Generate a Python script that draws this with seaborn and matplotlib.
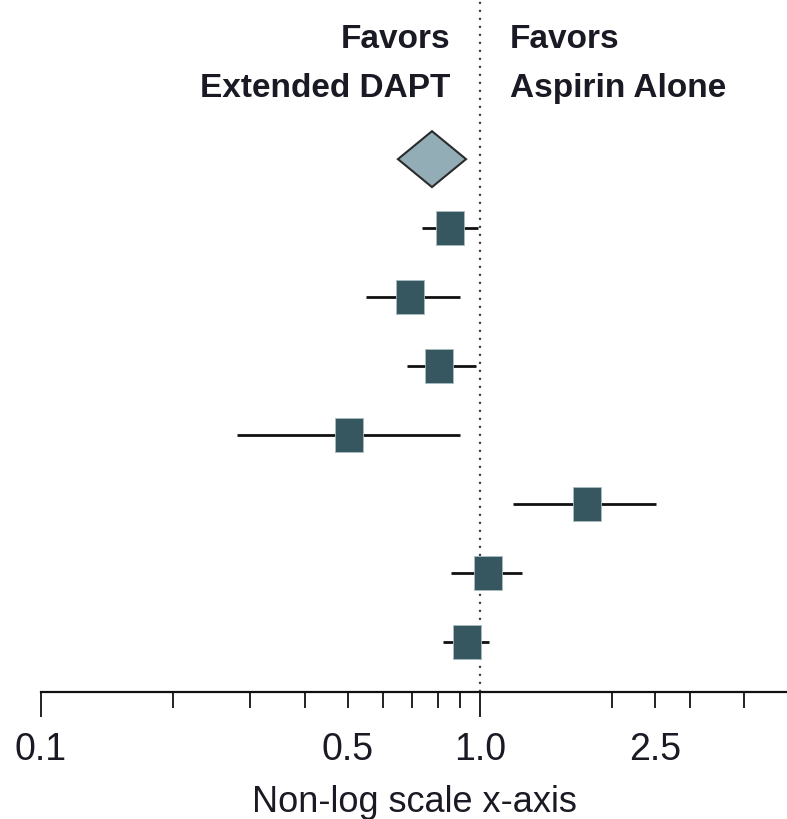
import numpy as np
import pandas as pd
import seaborn as sns
import matplotlib.pyplot as plt
from matplotlib.ticker import FixedLocator, FixedFormatter, NullLocator

# study rows (0 = pooled diamond)
rows = [1, 2, 3, 4, 5, 6, 7]
estimates = [0.856, 0.693, 0.807, 0.503, 1.75, 1.041, 0.935]
lower = [0.738, 0.550, 0.681, 0.280, 1.19, 0.859, 0.825]
upper = [0.990, 0.900, 0.978, 0.900, 2.52, 1.248, 1.050]

pooled_est = 0.777
pooled_lo = 0.650
pooled_hi = 0.929

tick_values = [0.1, 0.2, 0.3, 0.4, 0.5, 0.6, 0.7, 0.8, 0.9, 1.0, 2.0, 2.5, 3.0, 4.0]
tick_labels = ["0.1", "", "", "", "0.5", "", "", "", "", "1.0", "", "2.5", "", ""]
long_ticks = [0.1, 1.0]

df = pd.DataFrame({"row": rows, "est": estimates, "lo": lower, "hi": upper})

sns.set_style("ticks")
plt.rcParams["font.family"] = ["Liberation Sans", "DejaVu Sans"]

fig = plt.figure(figsize=(7.87, 8.2), dpi=100)
ax = fig.add_axes([41 / 787, 127 / 820, 746 / 787, 693 / 820])
ax.set_xscale("log")

# reference line
ax.axvline(1.0, color="#444444", linestyle=(0, (1, 2.6)), linewidth=1.6, zorder=1)

# confidence intervals
ax.hlines(df["row"], df["lo"], df["hi"], color="#111111", linewidth=2.0, zorder=2)

# study estimates (slightly tall rectangles)
box = [(-27 / 33, -1), (27 / 33, -1), (27 / 33, 1), (-27 / 33, 1), (-27 / 33, -1)]
sns.scatterplot(data=df, x="est", y="row", marker=box, s=23.8 ** 2,
                color="#36575f", edgecolor="#a9bcc2", linewidth=0.6, zorder=3, ax=ax)

# pooled diamond
dh = 0.405
ax.fill([pooled_lo, pooled_est, pooled_hi, pooled_est, pooled_lo],
        [0, -dh, 0, dh, 0], facecolor="#93adb7", edgecolor="#2b2b2b",
        linewidth=1.5, zorder=3)

ax.set_xlim(0.1, 5.0)
ax.set_ylim(7.72, -2.32)

ax.xaxis.set_major_locator(FixedLocator(tick_values))
ax.xaxis.set_major_formatter(FixedFormatter(tick_labels))
ax.xaxis.set_minor_locator(NullLocator())
ax.tick_params(axis="x", length=18, width=1.3, color="#111111", pad=10,
               labelsize=27, labelcolor="#1a1a24")
for t, v in zip(ax.xaxis.get_major_ticks(), tick_values):
    if v not in long_ticks:
        t.tick1line.set_markersize(11.5)

ax.set_yticks([])
ax.set_ylabel("")
ax.set_xlabel("Non-log scale x-axis", fontsize=26, color="#1a1a24", labelpad=12)
sns.despine(ax=ax, left=True, top=True, right=True)
ax.spines["bottom"].set_linewidth(1.6)
ax.spines["bottom"].set_color("#111111")

ax.text(0.856, -0.92, "Favors\nExtended DAPT", ha="right", va="baseline",
        fontsize=24, fontweight="bold", color="#1a1a24", linespacing=1.72)
ax.text(1.17, -0.92, "Favors\nAspirin Alone", ha="left", va="baseline",
        fontsize=24, fontweight="bold", color="#1a1a24", linespacing=1.72)

fig.savefig("out.png", dpi=100)
